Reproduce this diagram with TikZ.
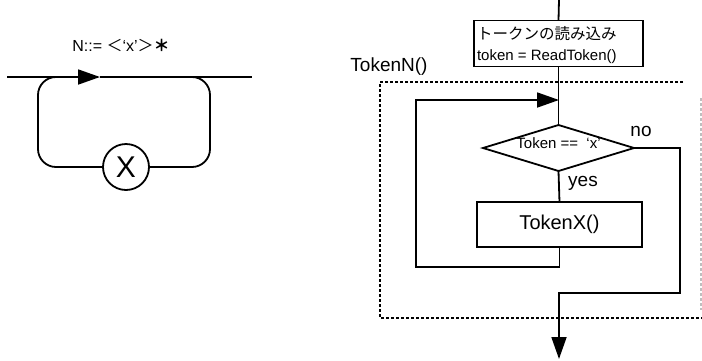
\documentclass[tikz,border=0pt]{standalone}
\usepackage{fontspec}
\setmainfont{Liberation Sans}
\newfontfamily\jpfont{Noto Sans CJK JP}
\usetikzlibrary{arrows.meta,shapes.geometric}

\tikzset{
  wire/.style={line width=1.8pt, line join=miter},
  tip/.style={wire, -{Triangle[length=22pt,width=15pt]}},
  stepbox/.style={draw, rectangle, line width=1.8pt, inner sep=0pt, outer sep=0pt},
  frame/.style={line width=1.5pt, dash pattern=on 3pt off 2pt},
  lbl/.style={inner sep=0pt, outer sep=0pt},
}

\begin{document}
\begin{tikzpicture}[x=1pt, y=-1pt]
\useasboundingbox (0,0) rectangle (702,360);

% ---------- syntax diagram of N ::= <'x'>* ----------
\node[lbl, font=\fontsize{16}{16}\selectfont] (rule) at (121,45)
  {N::= {\jpfont ＜}‘x’{\jpfont ＞\textbf{＊}}};
\coordinate (in)   at (7,77);
\coordinate (mark) at (100,77);
\coordinate (out)  at (252,77);
\draw[tip] (in) -- (mark);
\draw[wire] (mark) -- (out);
\node[circle, draw, line width=1.8pt, minimum size=46pt, inner sep=0pt,
      font=\fontsize{30}{30}\selectfont] (xsym) at (126,167) {X};
\draw[wire, rounded corners=18pt] (xsym.west) -- (38,167) -- (38,77) -- (75,77);
\draw[wire, rounded corners=18pt] (xsym.east) -- (210,167) -- (210,77) -- (175,77);

% ---------- flowchart of TokenN() ----------
\coordinate (entry) at (559,0);
\node[stepbox, minimum width=169pt, minimum height=46pt] (read) at (558.5,43.5) {};
\node[lbl, anchor=west, font=\jpfont\fontsize{15.5}{16}\selectfont] (readjp) at (477,34)
  {トークンの読み込み};
\node[lbl, anchor=west, font=\fontsize{15}{15}\selectfont] (readcode) at (477,57)
  {token = ReadToken()};

\node[lbl, font=\fontsize{19}{19}\selectfont] (fname) at (389,67) {TokenN()};

% dotted frame around the loop body
\draw[frame] (683,82) -- (380,82) -- (380,318) -- (702,318);
\draw[frame, black!25] (701,98) -- (701,310);

\node[draw, diamond, line width=1.8pt, minimum width=151pt, minimum height=46pt,
      inner sep=0pt, outer sep=0pt] (test) at (558.5,148)
  {\smash{\makebox[0pt]{\fontsize{15}{15}\selectfont Token ==\ \ ‘x’}}};

\node[stepbox, minimum width=165pt, minimum height=45pt,
      font=\fontsize{20}{20}\selectfont] (tokx) at (559.5,224.5) {TokenX()};

\node[lbl, font=\fontsize{19}{19}\selectfont] (no)  at (641,131) {no};
\node[lbl, font=\fontsize{19}{19}\selectfont] (yes) at (583,183) {yes};

\coordinate (join) at (559,100);
\coordinate (exit) at (559,359);

\draw[wire] (entry) -- (read.north);
\draw[wire] (read.south) -- (test.north);
\draw[wire] (test.south) -- (tokx.north);
% back edge of the loop
\draw[tip] (tokx.south) |- (416,267) -- (416,100) -- (join);
% leaving the loop
\draw[tip] (test.east) -- (680,148) -- (680,293) -- (559,293) -- (exit);
\end{tikzpicture}
\end{document}
